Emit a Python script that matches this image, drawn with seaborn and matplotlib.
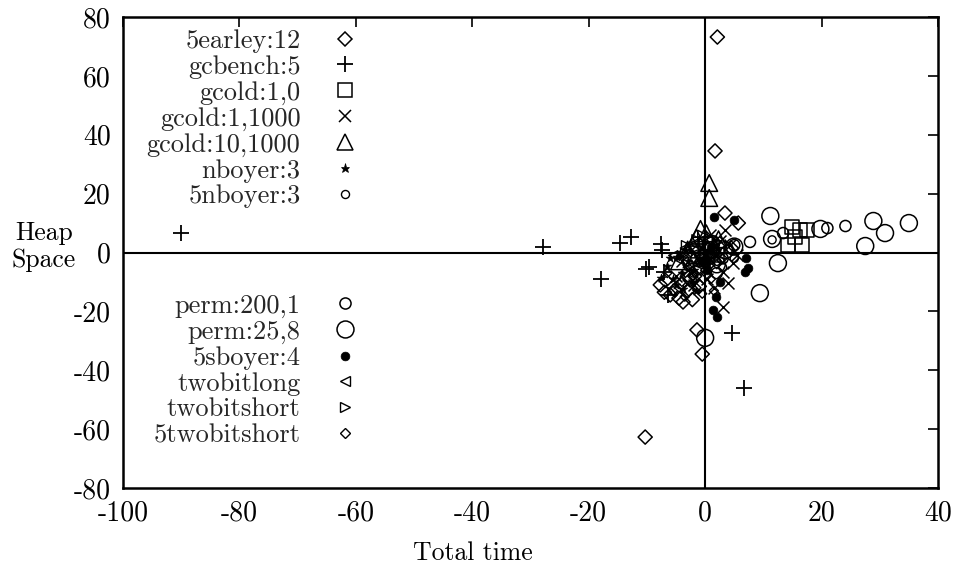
import matplotlib
matplotlib.use("Agg")
import matplotlib.pyplot as plt
import matplotlib.lines as mlines
import seaborn as sns
import pandas as pd

sns.set_theme(style="white")
plt.rcParams['font.family'] = ['cmr10', 'DejaVu Serif']
plt.rcParams['axes.unicode_minus'] = False
plt.rcParams['axes.formatter.use_mathtext'] = False

# ---------------- data ----------------
earley_x = [2.1, 1.7, 3.4, 5.7, -3.8, -1.4, -0.5, -10.3, -7.7, -6.0, -2.6, -5.2, -4.5, -3.0, -1.8, 0.5, 2.5, 4.5, -6.8, -2.2, -7.0, -4.0, -1.0]
earley_y = [73.2, 34.5, 13.4, 10.0, -16.8, -26.3, -34.5, -62.7, -11.0, -14.4, -9.3, -12.7, -15.5, -13.0, -8.0, -4.0, 3.0, 1.5, -9.5, -16.0, -13.5, -10.5, -11.5]

gcbench_x = [-90.0, -27.8, -14.6, -12.7, -7.6, -7.4, -10.1, -9.6, -7.0, -17.9, -6.4, 4.6, 6.7, -1.0, 0.5]
gcbench_y = [6.6, 1.9, 3.2, 5.3, 2.9, 0.8, -5.6, -4.9, -6.6, -9.0, -14.4, -27.3, -46.0, 3.0, -2.0]

gcold10_x = [14.9, 16.3, 17.5, 14.3, 16.7, 15.5, 0.8, 2.0]
gcold10_y = [8.7, 7.6, 7.6, 2.5, 2.5, 5.3, 3.0, -1.0]

gcold11000_x = [3.4, 4.8, 4.0, 3.1, 1.2, -0.9, 1.7, -2.5, 0.0, -4.0, 2.5, -1.5, 0.8, 3.0, -3.0, 5.5, 1.5, -0.5, -5.0, -2.0, 4.2, 0.3]
gcold11000_y = [7.6, -3.6, -10.4, -18.5, 2.5, -2.5, -0.8, 0.8, -5.5, -3.0, 4.0, -8.0, 6.0, -6.5, -6.0, -1.0, -12.0, 1.5, -8.0, -11.0, 2.5, -9.0]

gcold101000_x = [0.7, 0.7, 0.2, -1.5, -2.2, 1.5, -0.5, 2.3, -3.0, -0.8, -4.5]
gcold101000_y = [23.6, 18.5, 6.5, 5.0, 2.5, 2.0, -1.0, 4.5, 1.0, 8.0, -3.0]

nboyer_x = [-4.8, -5.5, -3.0, -6.5, -2.0, -4.0, -7.5, -1.0, -3.5, -5.0, -2.5, 0.5, -6.0, -3.8, -1.5, -4.3]
nboyer_y = [-1.5, -9.0, -3.0, -4.5, -6.0, -7.0, -8.5, -2.0, 1.0, -11.0, -10.0, -4.0, -2.0, -12.5, -13.0, 0.0]

nboyer5_x = [11.5, 4.0, 2.0, -1.0, 0.5, 3.0, -2.0, 5.0]
nboyer5_y = [4.3, 1.0, -3.0, -1.0, 2.0, -5.0, -7.0, -2.0]

perm200_x = [7.7, 13.4, 21.0, 24.1, 5.0, 3.0, 1.5, -0.5, 2.0]
perm200_y = [3.6, 6.6, 8.3, 9.0, 2.5, -2.0, 1.0, -3.5, -7.0]

perm25_x = [11.2, 11.5, 12.5, 9.4, 19.8, 27.5, 28.9, 30.9, 35.0, 0.0, 3.4, 5.0, 2.0, -1.0, 1.0]
perm25_y = [12.4, 4.6, -3.6, -13.8, 8.0, 2.2, 10.7, 6.6, 10.0, -29.0, 0.8, 2.0, -4.0, -2.0, 3.0]

sboyer_x = [1.5, 5.0, 7.0, 7.4, 6.9, 2.6, 1.9, 1.4, 2.1, 1.0, 0.3, -0.5]
sboyer_y = [12.1, 11.0, -1.9, -5.3, -6.6, -10.0, -15.1, -19.5, -21.9, 2.0, -6.0, -3.0]

twobitlong_x = [-3.5, -2.0, -1.0, 0.5, -4.5, 1.5, -2.8, -5.5]
twobitlong_y = [1.5, 3.0, -1.5, 4.0, -2.5, 0.5, -5.0, -1.0]

twobitshort_x = [-3.3, -1.5, 0.0, 1.0, -4.0, 2.0, -2.0, -0.5]
twobitshort_y = [2.5, 4.5, 0.5, -2.5, -1.0, 3.5, -4.0, 6.0]

twobitshort5_x = [-3.0, -2.0, -1.0, 0.0, 1.0, 2.0, -4.0, -1.5, 0.5, 3.0, -5.5, -2.5, -6.5, -3.5, -0.5, 1.5]
twobitshort5_y = [-5.0, -8.0, -3.0, -6.0, -9.0, -4.0, -10.0, -12.0, -1.0, -2.0, -13.0, 0.0, -7.0, -15.0, -14.0, -13.0]

labels = ["5earley:12", "gcbench:5", "gcold:1,0", "gcold:1,1000", "gcold:10,1000",
          "nboyer:3", "5nboyer:3", "perm:200,1", "perm:25,8", "5sboyer:4",
          "twobitlong", "twobitshort", "5twobitshort"]
xs = [earley_x, gcbench_x, gcold10_x, gcold11000_x, gcold101000_x, nboyer_x, nboyer5_x,
      perm200_x, perm25_x, sboyer_x, twobitlong_x, twobitshort_x, twobitshort5_x]
ys = [earley_y, gcbench_y, gcold10_y, gcold11000_y, gcold101000_y, nboyer_y, nboyer5_y,
      perm200_y, perm25_y, sboyer_y, twobitlong_y, twobitshort_y, twobitshort5_y]

x_ticks = [-100, -80, -60, -40, -20, 0, 20, 40]
y_ticks = [-80, -60, -40, -20, 0, 20, 40, 60, 80]

# ---------------- styles ----------------
# (marker, size in pt, filled, linewidth)
styles = [
    ("D", 7.2, False, 1.1),
    ("+", 11.5, False, 1.3),
    ("s", 10.0, False, 1.1),
    ("x", 8.6, False, 1.1),
    ("^", 12.0, False, 1.1),
    ("*", 6.5, True, 0.5),
    ("o", 5.8, False, 1.0),
    ("o", 8.0, False, 1.1),
    ("o", 12.2, False, 1.1),
    ("o", 6.3, True, 0.5),
    ("<", 6.5, False, 1.0),
    (">", 6.5, False, 1.0),
    ("D", 4.6, False, 1.0),
]

fig = plt.figure(figsize=(9.58, 5.72), dpi=100)
ax = fig.add_axes([123/958, 1-488/572, 815/958, 471/572])

ax.axhline(0, color="black", lw=1.5, zorder=1)
ax.axvline(0, color="black", lw=1.5, zorder=1)

handles = []
for lab, x, y, (m, ms, filled, lw) in zip(labels, xs, ys, styles):
    df = pd.DataFrame({"x": x, "y": y})
    if m in ("+", "x"):
        sns.scatterplot(data=df, x="x", y="y", marker=m, s=ms**2, color="black",
                        linewidth=lw, ax=ax, zorder=3)
    elif filled:
        sns.scatterplot(data=df, x="x", y="y", marker=m, s=ms**2, color="black",
                        edgecolor="black", linewidth=lw, ax=ax, zorder=3)
    else:
        sns.scatterplot(data=df, x="x", y="y", marker=m, s=ms**2, color="black",
                        facecolor="none", edgecolor="black", linewidth=lw, ax=ax, zorder=3)
    h = mlines.Line2D([], [], linestyle="none", marker=m, markersize=ms,
                      markerfacecolor=("black" if filled else "none"),
                      markeredgecolor="black", markeredgewidth=lw, label=lab)
    handles.append(h)

ax.set_xlim(-100, 40)
ax.set_ylim(-80, 80)
ax.set_xticks(x_ticks)
ax.set_yticks(y_ticks)
ax.set_xticklabels([str(t) for t in x_ticks])
ax.set_yticklabels([str(t) for t in y_ticks])
ax.tick_params(direction="in", length=7, width=1.2, top=True, right=True,
               labelsize=20, pad=9, colors="black")
for sp in ax.spines.values():
    sp.set_linewidth(1.8)
    sp.set_color("black")
    sp.set_visible(True)

ax.set_xlabel("Total time", fontsize=18.5, color="black")
ax.xaxis.set_label_coords(0.4294, -0.113)
ax.set_ylabel("Heap\nSpace", fontsize=18.5, rotation=0, ha="center", va="center",
              multialignment="center", color="black")
ax.yaxis.set_label_coords(-0.097, 0.512)

leg_kw = dict(loc="upper right", frameon=False, markerfirst=False, borderpad=0,
              borderaxespad=0, handlelength=1.0, handletextpad=1.18,
              labelspacing=0.08, fontsize=19, numpoints=1)
leg1 = ax.legend(handles=handles[:7], bbox_to_anchor=(0.2883, 0.9745), **leg_kw)
ax.add_artist(leg1)
leg2 = ax.legend(handles=handles[7:], bbox_to_anchor=(0.2883, 0.412), **leg_kw)

fig.savefig("out.png", dpi=100)
